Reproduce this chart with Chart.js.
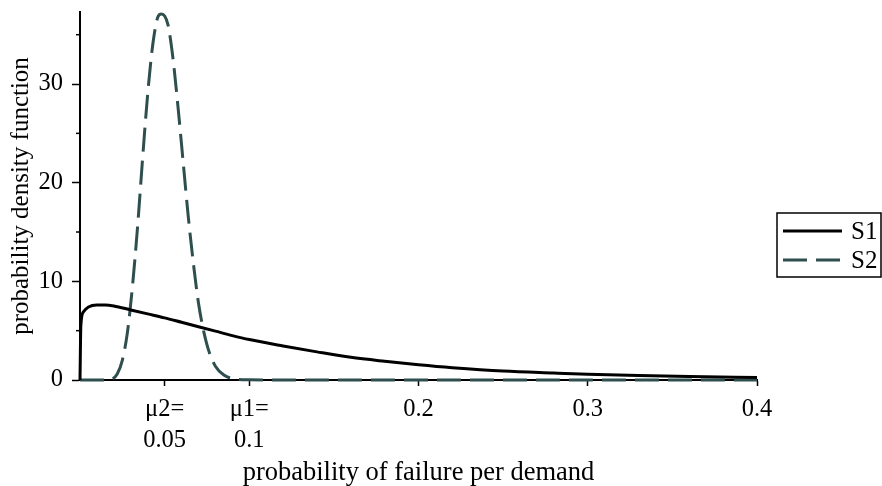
<!DOCTYPE html>
<html>
<head>
<meta charset="utf-8">
<script src="https://cdn.jsdelivr.net/npm/chart.js@4/dist/chart.umd.min.js"></script>
<style>
  html, body { margin: 0; padding: 0; background: #fff; }
  #wrap { width: 882px; height: 486px; }
  #probe { font-family: 'Liberation Serif'; position: absolute; left: -999px; top: 0; }
</style>
</head>
<body>
<span id="probe">probability 0.05</span>
<div id="wrap"><canvas id="PdfChart"></canvas></div>
<script>
// pdf of failure per demand, S1 vs S2

const s1X = [0, 0.0005, 0.002, 0.005, 0.01, 0.015, 0.02, 0.03, 0.04, 0.05, 0.06, 0.07, 0.08, 0.09, 0.1,
  0.12, 0.14, 0.16, 0.18, 0.2, 0.22, 0.25, 0.28, 0.3, 0.33, 0.36, 0.4];
const s1Y = [0, 5.5, 6.9, 7.4, 7.6, 7.6, 7.5, 7.1, 6.7, 6.3, 5.85, 5.4, 4.95, 4.5, 4.1,
  3.45, 2.85, 2.3, 1.9, 1.55, 1.25, 0.9, 0.7, 0.58, 0.45, 0.35, 0.25];

const s2X = [0, 0.016, 0.019, 0.022, 0.025, 0.028, 0.031, 0.034, 0.037, 0.04, 0.043, 0.046, 0.048, 0.05,
  0.052, 0.055, 0.058, 0.061, 0.064, 0.067, 0.07, 0.073, 0.076, 0.08, 0.085, 0.09, 0.1, 0.12, 0.4];
const s2Y = [0, 0, 0.1, 0.6, 2.0, 4.8, 9.5, 15.5, 22.5, 29, 34, 36.8, 37.1, 36.9,
  36, 32.5, 27.5, 22, 16.5, 11.8, 7.8, 5.0, 3.0, 1.4, 0.5, 0.15, 0.02, 0, 0];

const xTickVals = [0.05, 0.1, 0.2, 0.3, 0.4];
const xTickLabels = [['\u03bc2=', '0.05'], ['\u03bc1=', '0.1'], '0.2', '0.3', '0.4'];
const yTickVals = [0, 10, 20, 30];
const yMinorVals = [5, 15, 25, 35];

const FONT = "'Liberation Serif', 'Times New Roman', Times, serif";

const toPts = (xs, ys) => xs.map((x, i) => ({ x: x, y: ys[i] }));

//Data
const PdfData = {
  datasets: [{
    label: 'S1',
    data: toPts(s1X, s1Y),
    borderColor: '#000000',
    borderWidth: 3,
    pointRadius: 0,
    cubicInterpolationMode: 'monotone',
    clip: false
  }, {
    label: 'S2',
    data: toPts(s2X, s2Y),
    borderColor: '#2f4f4f',
    borderWidth: 3,
    borderDash: [24, 9],
    pointRadius: 0,
    cubicInterpolationMode: 'monotone',
    clip: false
  }]
};

// minor y ticks + boxed legend
const extras = {
  id: 'extras',
  afterDraw(chart) {
    const ctx = chart.ctx;
    const y = chart.scales.y;
    const area = chart.chartArea;
    ctx.save();
    ctx.strokeStyle = '#000';
    ctx.lineWidth = 1.5;
    yMinorVals.forEach(v => {
      const py = y.getPixelForValue(v);
      ctx.beginPath();
      ctx.moveTo(area.left - 4, py);
      ctx.lineTo(area.left, py);
      ctx.stroke();
    });

    // legend box
    const bx = area.right + 20, by = area.top + 201, bw = 104, bh = 64;
    ctx.lineWidth = 1.5;
    ctx.strokeRect(bx, by, bw, bh);
    ctx.font = '25px ' + FONT;
    ctx.textBaseline = 'middle';
    ctx.fillStyle = '#000';
    chart.data.datasets.forEach((ds, i) => {
      const ly = by + 18 + i * 29;
      ctx.beginPath();
      ctx.strokeStyle = ds.borderColor;
      ctx.lineWidth = ds.borderWidth;
      ctx.setLineDash(ds.borderDash || []);
      ctx.moveTo(bx + 6, ly);
      ctx.lineTo(bx + 65, ly);
      ctx.stroke();
      ctx.setLineDash([]);
      ctx.fillText(ds.label, bx + 74, ly + 1);
    });
    ctx.restore();
  }
};

//config
const PdfConfig = {
  type: 'line',
  data: PdfData,
  options: {
    responsive: true,
    maintainAspectRatio: false,
    animation: false,
    layout: { padding: { top: 12, right: 125, bottom: 0, left: 0 } },
    plugins: {
      legend: { display: false },
      tooltip: { enabled: false }
    },
    scales: {
      x: {
        type: 'linear',
        min: 0,
        max: 0.4,
        afterBuildTicks: s => { s.ticks = xTickVals.map(v => ({ value: v })); },
        afterFit: s => { s.height = 106; s.paddingLeft = 0; s.paddingRight = 0; },
        grid: { drawOnChartArea: false, drawTicks: true, tickLength: 6, color: '#000', tickWidth: 1.5 },
        border: { color: '#000', width: 2 },
        ticks: {
          autoSkip: false,
          maxRotation: 0,
          padding: 8,
          color: '#000',
          font: { family: FONT, size: 24.5, lineHeight: 1.28 },
          callback: (val, i) => xTickLabels[i]
        },
        title: {
          display: true,
          text: 'probability of failure per demand',
          color: '#000',
          font: { family: FONT, size: 26.5, lineHeight: 1 },
          padding: 0
        }
      },
      y: {
        min: 0,
        max: 37.3,
        afterBuildTicks: s => { s.ticks = yTickVals.map(v => ({ value: v })); },
        afterFit: s => { s.width = 80; s.paddingTop = 0; s.paddingBottom = 0; },
        grid: { drawOnChartArea: false, drawTicks: true, tickLength: 8, color: '#000', tickWidth: 1.5 },
        border: { color: '#000', width: 2 },
        ticks: {
          padding: 9,
          color: '#000',
          font: { family: FONT, size: 24.5 }
        },
        title: {
          display: true,
          text: 'probability density function',
          color: '#000',
          font: { family: FONT, size: 25 },
          padding: { top: 6, bottom: 0 }
        }
      }
    }
  },
  plugins: [extras]
};

//View
let PdfChart;
const build = () => {
  PdfChart = new Chart(document.getElementById('PdfChart'), PdfConfig);
};
if (document.fonts && document.fonts.load) {
  document.fonts.load("24px 'Liberation Serif'").then(build, build);
} else {
  build();
}
</script>
</body>
</html>
